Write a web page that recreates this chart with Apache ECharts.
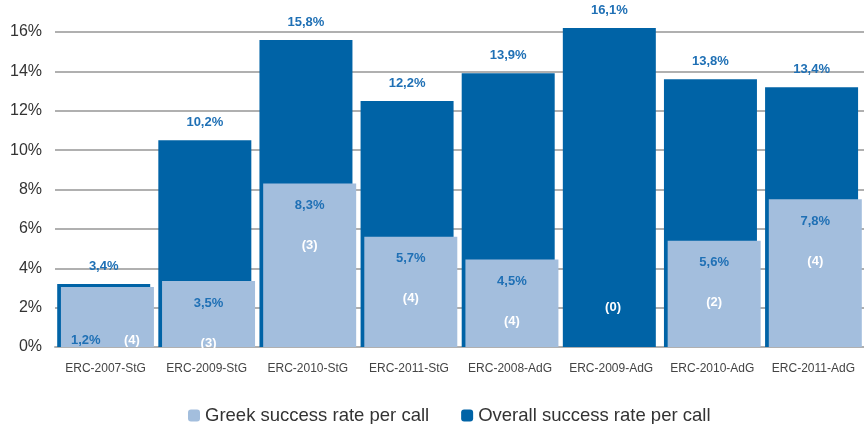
<!DOCTYPE html>
<html>
<head>
<meta charset="utf-8">
<script src="https://cdn.jsdelivr.net/npm/echarts@6/dist/echarts.min.js"></script>
<style>
  html, body { margin: 0; padding: 0; background: #fff; }
  #chart { width: 864px; height: 424px; }
</style>
</head>
<body>
<div id="chart"></div>
<script>
// Categories and values
const calls = ['ERC-2007-StG', 'ERC-2009-StG', 'ERC-2010-StG', 'ERC-2011-StG',
               'ERC-2008-AdG', 'ERC-2009-AdG', 'ERC-2010-AdG', 'ERC-2011-AdG'];
// bar heights as drawn
const overallBar = [3.2, 10.5, 15.6, 12.5, 13.9, 16.2, 13.6, 13.2];
const greekBar = [3.05, 3.35, 8.3, 5.6, 4.45, 0, 5.4, 7.5];
// printed labels
const overallText = ['3,4%', '10,2%', '15,8%', '12,2%', '13,9%', '16,1%', '13,8%', '13,4%'];
const greekText = ['1,2%', '3,5%', '8,3%', '5,7%', '4,5%', '', '5,6%', '7,8%'];
const grantCounts = ['(4)', '(3)', '(3)', '(4)', '(4)', '(0)', '(2)', '(4)'];

const darkBlue = '#0063a6';
const lightBlue = '#a3bedd';
const labelBlue = '#1f70b5';
const font = 'Liberation Sans, Arial, sans-serif';

const rich = {
  p: { color: labelBlue, fontWeight: 'bold', fontSize: 13, fontFamily: font, lineHeight: 40 },
  c: { color: '#fff', fontWeight: 'bold', fontSize: 13, fontFamily: font, lineHeight: 40 },
  ps: { color: labelBlue, fontWeight: 'bold', fontSize: 13, fontFamily: font, lineHeight: 14 },
  cs: { color: '#fff', fontWeight: 'bold', fontSize: 13, fontFamily: font, lineHeight: 14 }
};

const greekData = greekBar.map(function (v, i) {
  let label;
  if (i === 0) {
    // small bar: both texts on one line at the bottom
    label = { position: 'insideBottom', distance: 0, offset: [-2, 0],
              formatter: '{ps|' + greekText[i] + '}       {cs|' + grantCounts[i] + '}' };
  } else if (v === 0) {
    label = { position: 'top', distance: 20, formatter: '{c|' + grantCounts[i] + '}' };
  } else {
    label = { position: 'insideTop', distance: 2, formatter: '{p|' + greekText[i] + '}\n{c|' + grantCounts[i] + '}' };
  }
  return { value: v, label: label };
});

const chart = echarts.init(document.getElementById('chart'));

chart.setOption({
  animation: false,
  grid: { left: 55, top: 32, width: 832, bottom: 77 },
  legend: {
    bottom: -6,
    left: 183,
    itemWidth: 12,
    itemHeight: 12,
    itemGap: 32,
    textStyle: { fontSize: 18.5, color: '#333', fontFamily: font },
    data: ['Greek success rate per call', 'Overall success rate per call']
  },
  xAxis: {
    type: 'category',
    data: calls,
    axisLine: { lineStyle: { color: '#b0b0b0', width: 2 } },
    axisTick: { show: false },
    axisLabel: { color: '#444', fontSize: 12, fontFamily: font, margin: 16, interval: 0 }
  },
  yAxis: {
    type: 'value',
    min: 0,
    max: 16,
    interval: 2,
    axisLine: { show: false },
    axisTick: { show: false },
    axisLabel: { formatter: '{value}%', color: '#333', fontSize: 16, fontFamily: font, margin: 13 },
    splitLine: { lineStyle: { color: '#b0b0b0', width: 2 } }
  },
  series: [
    {
      name: 'Overall success rate per call',
      type: 'bar',
      data: overallBar,
      barWidth: 93,
      barGap: '-96%',
      clip: false,
      itemStyle: { color: darkBlue },
      label: {
        show: true,
        position: 'top',
        distance: 11,
        color: labelBlue,
        fontWeight: 'bold',
        fontSize: 13,
        fontFamily: font,
        formatter: function (p) { return overallText[p.dataIndex]; }
      }
    },
    {
      name: 'Greek success rate per call',
      type: 'bar',
      data: greekData,
      barWidth: 93,
      clip: false,
      itemStyle: { color: lightBlue },
      label: { show: true, rich: rich }
    }
  ]
});
</script>
</body>
</html>
